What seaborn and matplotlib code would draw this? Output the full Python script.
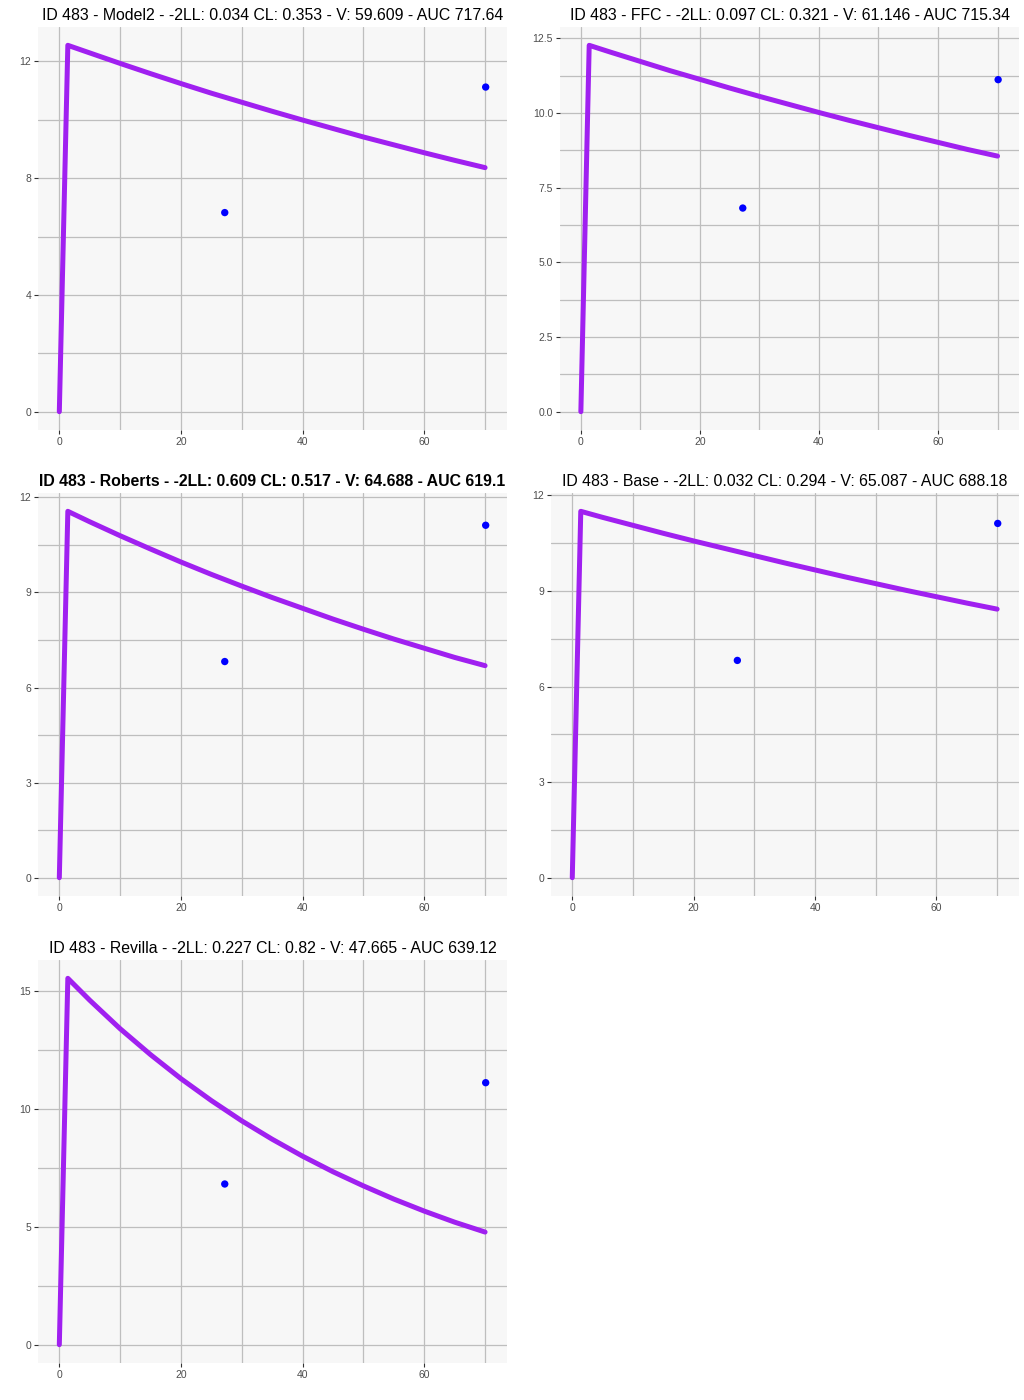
import matplotlib
matplotlib.use("Agg")
import matplotlib.pyplot as plt
import seaborn as sns
import pandas as pd
from matplotlib.ticker import AutoMinorLocator, FixedLocator

sns.set_theme(style="whitegrid")
plt.rcParams['font.family'] = ['Liberation Sans', 'DejaVu Sans']

# ---- data ----
time_line = [0, 1.4, 5, 10, 15, 20, 25, 30, 35, 40, 45, 50, 55, 60, 65, 70]
conc_model2 = [0, 12.55, 12.29, 11.93, 11.58, 11.24, 10.91, 10.60, 10.29,
               9.99, 9.70, 9.41, 9.14, 8.87, 8.61, 8.36]
conc_ffc = [0, 12.27, 12.04, 11.73, 11.42, 11.13, 10.84, 10.56, 10.29,
            10.02, 9.76, 9.51, 9.26, 9.02, 8.78, 8.56]
conc_roberts = [0, 11.56, 11.23, 10.79, 10.37, 9.96, 9.57, 9.20, 8.84,
                8.50, 8.16, 7.84, 7.53, 7.24, 6.95, 6.69]
conc_base = [0, 11.50, 11.31, 11.06, 10.81, 10.57, 10.34, 10.11, 9.88,
             9.66, 9.44, 9.23, 9.02, 8.82, 8.62, 8.43]
conc_revilla = [0, 15.55, 14.62, 13.41, 12.31, 11.29, 10.36, 9.50, 8.72,
                8.00, 7.34, 6.74, 6.18, 5.67, 5.20, 4.78]

time_obs = [27.2, 70.1]
conc_obs = [6.82, 11.12]

titles = [
    "ID 483 - Model2 - -2LL: 0.034 CL: 0.353 - V: 59.609 - AUC 717.64",
    "ID 483 - FFC - -2LL: 0.097 CL: 0.321 - V: 61.146 - AUC 715.34",
    "ID 483 - Roberts - -2LL: 0.609 CL: 0.517 - V: 64.688 - AUC 619.1",
    "ID 483 - Base - -2LL: 0.032 CL: 0.294 - V: 65.087 - AUC 688.18",
    "ID 483 - Revilla - -2LL: 0.227 CL: 0.82 - V: 47.665 - AUC 639.12",
]
bold_title = [False, False, True, False, False]
series = [conc_model2, conc_ffc, conc_roberts, conc_base, conc_revilla]
y_ticks = [[0, 4, 8, 12], [0, 2.5, 5, 7.5, 10, 12.5], [0, 3, 6, 9, 12],
           [0, 3, 6, 9, 12], [0, 5, 10, 15]]
y_labels = [["0", "4", "8", "12"], ["0.0", "2.5", "5.0", "7.5", "10.0", "12.5"],
            ["0", "3", "6", "9", "12"], ["0", "3", "6", "9", "12"],
            ["0", "5", "10", "15"]]
x_ticks = [0, 20, 40, 60]

# panel boxes in pixels: left, top, right, bottom
W, H = 1024, 1400
boxes = [(38, 27, 507, 430), (560, 27, 1019, 430), (38, 493, 507, 896),
         (551, 493, 1019, 896), (38, 960, 507, 1363)]

fig = plt.figure(figsize=(W / 100, H / 100), dpi=100)
fig.patch.set_facecolor("white")

for i in range(5):
    l, t, r, b = boxes[i]
    ax = fig.add_axes([l / W, 1 - b / H, (r - l) / W, (b - t) / H])
    df = pd.DataFrame({"time": time_line, "conc": series[i]})
    sns.lineplot(data=df, x="time", y="conc", ax=ax, color="#A020F0",
                 linewidth=3.6, sort=False, estimator=None, zorder=3)
    sns.scatterplot(x=time_obs, y=conc_obs, ax=ax, color="#0000FF", s=28,
                    edgecolor="none", zorder=4)
    ax.set_facecolor("#F7F7F7")
    for s in ax.spines.values():
        s.set_visible(False)
    xmin, xmax = 0, max(max(time_line), max(time_obs))
    ymin, ymax = 0, max(max(series[i]), max(conc_obs))
    xr, yr = xmax - xmin, ymax - ymin
    ax.set_xlim(xmin - 0.05 * xr, xmax + 0.05 * xr)
    ax.set_ylim(ymin - 0.05 * yr, ymax + 0.05 * yr)
    ax.xaxis.set_major_locator(FixedLocator(x_ticks))
    ax.set_xticklabels([str(v) for v in x_ticks])
    ax.yaxis.set_major_locator(FixedLocator(y_ticks[i]))
    ax.set_yticklabels(y_labels[i])
    ax.xaxis.set_minor_locator(AutoMinorLocator(2))
    ax.yaxis.set_minor_locator(AutoMinorLocator(2))
    ax.grid(True, which="both", color="#BEBEBE", linewidth=0.9)
    ax.set_axisbelow(True)
    ax.tick_params(which="major", length=3, width=0.8, color="#333333",
                   labelcolor="#4D4D4D", labelsize=7.5, pad=2,
                   bottom=True, left=True)
    ax.tick_params(which="minor", length=0)
    ax.set_xlabel("")
    ax.set_ylabel("")
    ax.set_title(titles[i], fontsize=11.45,
                 fontweight="bold" if bold_title[i] else "normal",
                 color="black", pad=5)

fig.savefig("out.png", dpi=100, facecolor="white")
